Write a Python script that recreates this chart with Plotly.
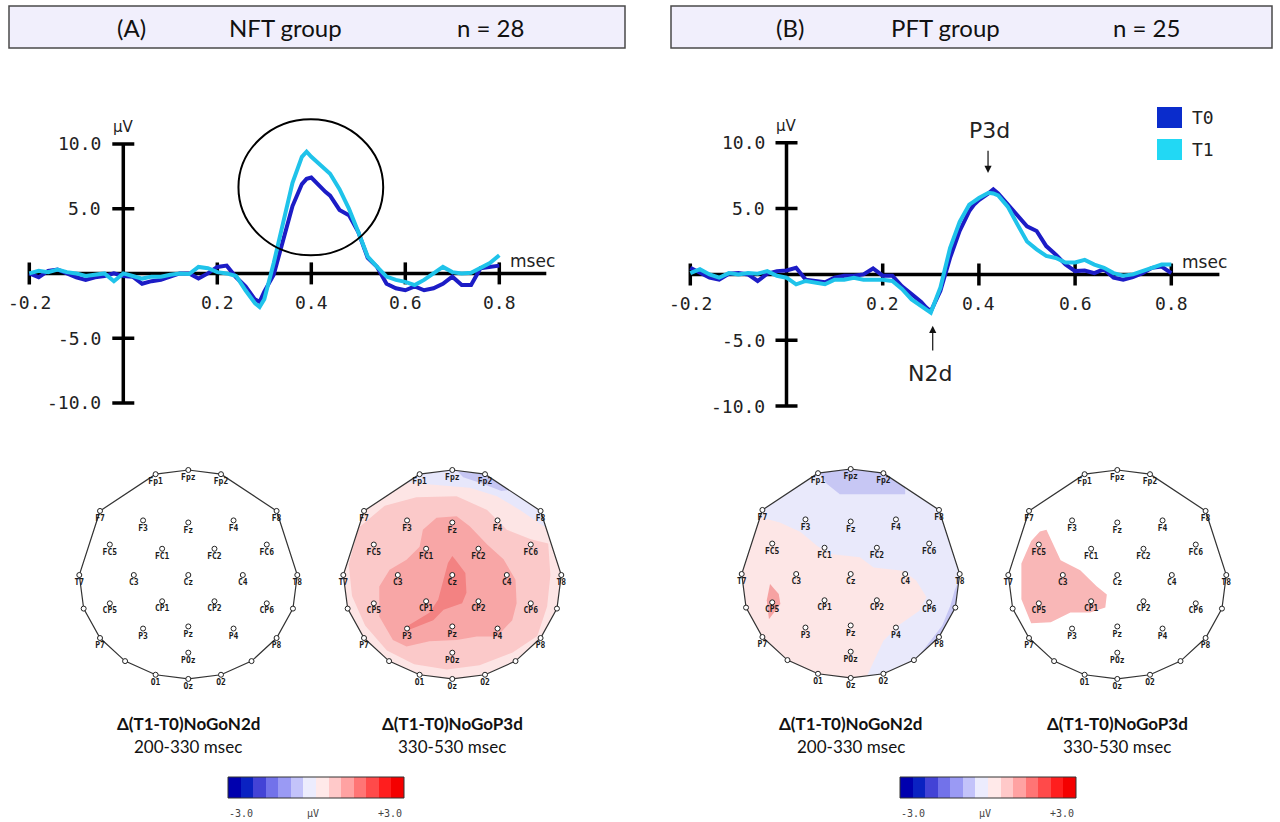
import plotly.graph_objects as go

W, H = 1280, 822

# ---------------- ERP data (seconds, microvolts) ----------------
time_s = [-0.20, -0.18, -0.16, -0.14, -0.12, -0.10, -0.08, -0.06, -0.04, -0.02,
          0.00, 0.02, 0.04, 0.06, 0.08, 0.10, 0.12, 0.14, 0.16, 0.18,
          0.20, 0.22, 0.24, 0.26, 0.28, 0.29, 0.30, 0.32, 0.34, 0.36,
          0.38, 0.39, 0.40, 0.42, 0.43, 0.44, 0.46, 0.48, 0.50, 0.52,
          0.54, 0.56, 0.58, 0.60, 0.62, 0.64, 0.66, 0.68, 0.70, 0.72,
          0.74, 0.76, 0.78, 0.80]

nft_t0 = [0.0, -0.3, 0.2, 0.3, 0.0, -0.3, -0.5, -0.3, -0.2, 0.0,
          -0.2, -0.25, -0.8, -0.6, -0.5, -0.25, 0.0, 0.0, -0.4, 0.0,
          0.5, 0.6, -0.3, -1.0, -2.0, -2.2, -1.4, -0.1, 2.6, 5.2,
          6.9, 7.3, 7.4, 6.6, 6.3, 6.0, 4.9, 4.5, 3.2, 1.2,
          0.5, -0.8, -1.15, -1.3, -1.0, -1.3, -1.15, -0.8, -0.25, -0.9,
          -0.9, 0.4, 0.5, 0.6]
nft_t1 = [0.0, 0.2, 0.1, 0.3, 0.1, 0.0, -0.2, -0.1, 0.0, -0.6,
          0.0, -0.2, -0.4, -0.25, -0.25, -0.1, 0.0, -0.05, 0.5, 0.4,
          0.1, 0.0, -0.2, -1.3, -2.3, -2.6, -2.0, 0.8, 3.8, 7.0,
          9.0, 9.4, 9.0, 8.3, 8.0, 7.7, 6.5, 5.0, 3.2, 1.3,
          0.5, -0.25, -0.5, -0.65, -0.9, -0.5, 0.0, 0.5, 0.1, 0.0,
          0.05, 0.4, 0.8, 1.4]
pft_t0 = [0.5, 0.1, -0.25, -0.4, 0.05, 0.1, 0.0, -0.5, 0.05, 0.25,
          0.3, 0.5, -0.4, -0.5, -0.6, -0.25, -0.1, -0.1, 0.0, 0.45,
          -0.1, -0.1, -0.9, -1.5, -2.1, -2.5, -2.8, -1.25, 1.25, 3.3,
          4.8, 5.3, 5.65, 6.15, 6.45, 6.15, 5.3, 4.4, 3.65, 3.3,
          2.15, 1.5, 0.75, 0.25, 0.3, 0.1, 0.4, -0.25, -0.4, -0.2,
          0.1, 0.5, 0.6, 0.1]
pft_t1 = [0.1, 0.4, 0.0, -0.25, 0.1, 0.0, 0.1, 0.05, 0.25, -0.1,
          -0.25, -0.75, -0.5, -0.6, -0.75, -0.4, -0.4, -0.25, -0.4, -0.4,
          -0.4, -0.5, -1.1, -1.9, -2.4, -2.65, -2.9, -1.0, 2.0, 4.0,
          5.3, 5.55, 5.8, 6.2, 6.15, 6.0, 5.15, 3.8, 2.5, 1.9,
          1.4, 1.25, 0.9, 0.9, 1.1, 0.75, 0.5, 0.1, -0.1, 0.0,
          0.25, 0.5, 0.75, 0.75]

x_ticks = [-0.2, 0.2, 0.4, 0.6, 0.8]
x_tick_labels = ["-0.2", "0.2", "0.4", "0.6", "0.8"]
y_ticks = [10.0, 5.0, -5.0, -10.0]
y_tick_labels = ["10.0", "5.0", "-5.0", "-10.0"]

series_names = ["T0", "T1"]
series_colors = ["#1c1cc6", "#1fc3ea"]
legend_colors = ["#0a2ccc", "#22d8f4"]

# ---------------- Topography (normalised head coordinates) ----------------
electrode_names = ["Fp1", "Fpz", "Fp2", "F7", "F3", "Fz", "F4", "F8",
                   "FC5", "FC1", "FC2", "FC6", "T7", "C3", "Cz", "C4", "T8",
                   "CP5", "CP1", "CP2", "CP6", "P7", "P3", "Pz", "P4", "P8",
                   "POz", "O1", "Oz", "O2", "", "", "", ""]
electrode_x = [-0.30, 0.00, 0.30, -0.81, -0.415, 0.00, 0.415, 0.81,
               -0.72, -0.24, 0.24, 0.72, -1.00, -0.50, 0.00, 0.50, 1.00,
               -0.72, -0.24, 0.24, 0.72, -0.81, -0.415, 0.00, 0.415, 0.81,
               0.00, -0.30, 0.00, 0.30, -0.96, 0.96, -0.58, 0.58]
electrode_y = [0.96, 1.00, 0.96, 0.61, 0.52, 0.50, 0.52, 0.61,
               0.29, 0.25, 0.25, 0.29, 0.00, 0.00, 0.00, 0.00, 0.00,
               -0.27, -0.25, -0.25, -0.27, -0.60, -0.51, -0.49, -0.51, -0.60,
               -0.74, -0.95, -0.99, -0.95, -0.32, -0.32, -0.82, -0.82]

head_x = [0.00, 0.30, 0.81, 1.00, 0.96, 0.81, 0.58, 0.30, 0.00, -0.30,
          -0.58, -0.81, -0.96, -1.00, -0.81, -0.30, 0.00]
head_y = [1.00, 0.96, 0.61, 0.00, -0.32, -0.60, -0.82, -0.95, -0.99, -0.95,
          -0.82, -0.60, -0.32, 0.00, 0.61, 0.96, 1.00]

# NFT group, P3d window
nft_p3_base = "#fde5e5"
nft_p3_lavender = [(-0.42, 0.88), (-0.30, 0.96), (0.00, 1.00), (0.30, 0.96), (0.81, 0.61),
                   (0.86, 0.45), (0.62, 0.62), (0.41, 0.75), (0.16, 0.83), (-0.11, 0.85),
                   (-0.375, 0.87)]
nft_p3_blue = [(0.05, 0.985), (0.30, 0.96), (0.52, 0.81), (0.45, 0.80), (0.28, 0.87), (0.10, 0.93)]
nft_p3_pink = [(-0.86, 0.45), (-0.62, 0.66), (-0.33, 0.74), (0.04, 0.75), (0.32, 0.62),
               (0.50, 0.43), (0.72, 0.34), (0.88, 0.30), (0.90, 0.00), (0.87, -0.30),
               (0.78, -0.58), (0.55, -0.74), (0.25, -0.86), (-0.05, -0.90), (-0.35, -0.85),
               (-0.60, -0.72), (-0.80, -0.48), (-0.92, -0.20), (-0.95, 0.10)]
nft_p3_salmon = [(-0.27, 0.43), (-0.145, 0.545), (0.04, 0.56), (0.16, 0.465), (0.32, 0.29),
                 (0.47, 0.15), (0.58, -0.045), (0.59, -0.27), (0.55, -0.43), (0.41, -0.585),
                 (0.225, -0.585), (0.04, -0.62), (-0.21, -0.63), (-0.42, -0.68), (-0.545, -0.62),
                 (-0.67, -0.395), (-0.67, -0.11), (-0.575, 0.05), (-0.42, 0.145), (-0.30, 0.27)]
nft_p3_red = [(0.00, 0.18), (0.025, 0.15), (0.12, 0.02), (0.13, -0.17), (0.09, -0.27),
              (-0.08, -0.33), (-0.175, -0.43), (-0.39, -0.52), (-0.42, -0.49), (-0.21, -0.36),
              (-0.13, -0.235), (-0.08, -0.045), (-0.04, 0.115)]

# PFT group, N2d window
pft_n2_base = "#e9e9fb"
pft_n2_pink = [(-0.83, 0.54), (-0.65, 0.49), (-0.46, 0.40), (-0.31, 0.27), (-0.19, 0.19),
               (0.085, 0.16), (0.21, 0.063), (0.48, 0.03), (0.60, -0.063), (0.695, -0.22),
               (0.63, -0.35), (0.45, -0.48), (0.30, -0.635), (0.18, -0.89), (0.15, -0.97),
               (0.00, -0.99), (-0.30, -0.95), (-0.58, -0.82), (-0.81, -0.60), (-0.96, -0.32),
               (-1.00, 0.00)]
pft_n2_blue_top = [(-0.28, 0.963), (0.00, 1.00), (0.30, 0.96), (0.50, 0.823), (0.50, 0.76),
                   (0.18, 0.76), (-0.10, 0.76), (-0.22, 0.86)]
pft_n2_blue_side = [(0.985, -0.08), (0.96, -0.32), (0.81, -0.60), (0.63, -0.77), (0.67, -0.72),
                    (0.84, -0.49), (0.915, -0.30), (0.955, -0.15)]
pft_n2_red = [(-0.74, -0.095), (-0.66, -0.19), (-0.645, -0.285), (-0.75, -0.43), (-0.77, -0.25)]

# PFT group, P3d window
pft_p3_pink = [(-0.65, 0.43), (-0.59, 0.29), (-0.52, 0.14), (-0.34, 0.046), (-0.19, -0.108),
               (-0.096, -0.186), (-0.11, -0.31), (-0.25, -0.356), (-0.43, -0.356), (-0.61, -0.45),
               (-0.79, -0.46), (-0.88, -0.23), (-0.88, 0.11), (-0.79, 0.325), (-0.71, 0.415)]

topo_titles = ["Δ(T1-T0)NoGoN2d", "Δ(T1-T0)NoGoP3d", "Δ(T1-T0)NoGoN2d", "Δ(T1-T0)NoGoP3d"]
topo_windows = ["200-330 msec", "330-530 msec", "200-330 msec", "330-530 msec"]

cb_colors = ["#0000ae", "#0a22c2", "#4343d6", "#7272ea", "#9a9af4", "#c3c3fa", "#ececfd",
             "#ffe9e9", "#ffc9c9", "#ffa2a2", "#ff7575", "#ff4a4a", "#ff1e1e", "#f40000"]
cb_labels = ["-3.0", "µV", "+3.0"]

headers = [["(A)", "NFT group", "n = 28"], ["(B)", "PFT group", "n = 25"]]

# ---------------- geometry helpers ----------------
def xdom(a, b):
    return [a / W, b / W]

def ydom(top, bottom):
    return [1 - bottom / H, 1 - top / H]

XR = [-0.21, 0.905]
YR = [-10.4, 12.4]
# panel: (x px of t=0, px per second, y px of 0 uV, px per uV)
panels = [(123.3, 470.0, 273.4, 12.95), (786.5, 481.0, 274.4, 13.17)]

fig = go.Figure()
layout = dict(width=W, height=H, margin=dict(l=0, r=0, t=0, b=0),
              paper_bgcolor="white", plot_bgcolor="rgba(0,0,0,0)", showlegend=False)
shapes, annos = [], []
MONO = "DejaVu Sans Mono"
SANS = "DejaVu Sans"

erp_sets = [(nft_t0, nft_t1), (pft_t0, pft_t1)]
for p, (x0, pxs, y0, pyu) in enumerate(panels):
    xa = "x" if p == 0 else "x2"
    ya = "y" if p == 0 else "y2"
    kx = "xaxis" if p == 0 else "xaxis2"
    ky = "yaxis" if p == 0 else "yaxis2"
    layout[kx] = dict(domain=xdom(x0 + XR[0] * pxs, x0 + XR[1] * pxs), range=XR, visible=False)
    layout[ky] = dict(domain=ydom(y0 - YR[1] * pyu, y0 - YR[0] * pyu), range=YR, visible=False)
    # axes
    shapes.append(dict(type="line", xref=xa, yref=ya, x0=0, x1=0, y0=-10, y1=10,
                       line=dict(color="black", width=3.5), layer="below"))
    shapes.append(dict(type="line", xref=xa, yref=ya, x0=-0.2, x1=0.9, y0=0, y1=0,
                       line=dict(color="black", width=3.5), layer="below"))
    hw = 11 / pxs
    hh = 11 / pyu
    for v, lab in zip(y_ticks, y_tick_labels):
        shapes.append(dict(type="line", xref=xa, yref=ya, x0=-hw, x1=hw, y0=v, y1=v,
                           line=dict(color="black", width=3.5), layer="below"))
        annos.append(dict(xref=xa, yref=ya, x=-20 / pxs, y=v, text=lab, showarrow=False,
                          xanchor="right", yanchor="middle",
                          font=dict(family=MONO, size=18, color="#222")))
    for t, lab in zip(x_ticks, x_tick_labels):
        shapes.append(dict(type="line", xref=xa, yref=ya, x0=t, x1=t, y0=-hh, y1=hh,
                           line=dict(color="black", width=3.5), layer="below"))
        annos.append(dict(xref=xa, yref=ya, x=t, y=-29 / pyu, text=lab, showarrow=False,
                          xanchor="center", yanchor="middle",
                          font=dict(family=MONO, size=18, color="#222")))
    annos.append(dict(xref=xa, yref=ya, x=0, y=10, yshift=17, text="µV", showarrow=False,
                      xanchor="center", yanchor="middle", font=dict(family=SANS, size=15, color="#222")))
    annos.append(dict(xref=xa, yref=ya, x=0.818, y=0, yshift=12, text="msec", showarrow=False,
                      xanchor="left", yanchor="middle", font=dict(family=SANS, size=17, color="#222")))
    for s, vals in enumerate(erp_sets[p]):
        fig.add_trace(go.Scatter(x=time_s, y=vals, mode="lines", name=series_names[s],
                                 line=dict(color=series_colors[s], width=4),
                                 xaxis=xa, yaxis=ya, hoverinfo="skip"))

# circle around NFT P3
shapes.append(dict(type="circle", xref="x", yref="y", x0=0.245, x1=0.553, y0=1.4, y1=11.9,
                   line=dict(color="black", width=2)))

# P3d / N2d markers in panel B
annos.append(dict(xref="x2", yref="y2", x=0.419, y=7.7, ax=0.419, ay=9.5, axref="x2", ayref="y2",
                  text="", showarrow=True, arrowhead=2, arrowsize=1.2, arrowwidth=1.2, arrowcolor="#111"))
annos.append(dict(xref="x2", yref="y2", x=0.422, y=10.9, text="P3d", showarrow=False,
                  font=dict(family=SANS, size=22, color="#222")))
annos.append(dict(xref="x2", yref="y2", x=0.304, y=-3.9, ax=0.304, ay=-5.9, axref="x2", ayref="y2",
                  text="", showarrow=True, arrowhead=2, arrowsize=1.2, arrowwidth=1.2, arrowcolor="#111"))
annos.append(dict(xref="x2", yref="y2", x=0.298, y=-7.5, text="N2d", showarrow=False,
                  font=dict(family=SANS, size=22, color="#222")))

# legend (panel B)
for i, (name, col) in enumerate(zip(series_names, legend_colors)):
    top = 107 + i * 32
    shapes.append(dict(type="rect", xref="paper", yref="paper", x0=1157 / W, x1=1182 / W,
                       y0=1 - (top + 21) / H, y1=1 - top / H, fillcolor=col, line=dict(width=0)))
    annos.append(dict(xref="paper", yref="paper", x=1190 / W, y=1 - (top + 10.5) / H, text=name,
                      showarrow=False, xanchor="left", yanchor="middle",
                      font=dict(family=MONO, size=18, color="#222")))

# headers
hdr_boxes = [(9, 625), (671, 1272)]
hdr_text_x = [[131, 285, 490], [790, 945, 1146]]
for (a, b), texts, xs in zip(hdr_boxes, headers, hdr_text_x):
    shapes.append(dict(type="rect", xref="paper", yref="paper", x0=a / W, x1=b / W,
                       y0=1 - 48 / H, y1=1 - 6 / H, fillcolor="#f1effc",
                       line=dict(color="#4a4a4a", width=1.5)))
    for tx, px in zip(texts, xs):
        annos.append(dict(xref="paper", yref="paper", x=px / W, y=1 - 27 / H, text=tx,
                          showarrow=False, xanchor="center", yanchor="middle",
                          font=dict(family="Lato", size=24, color="#111")))

# ---------------- topographic maps ----------------
RX, RY = 109.0, 105.0
TR = [-1.1, 1.1]
topo_centers = [(188.3, 575.0), (452.3, 575.0), (850.7, 574.0), (1117.3, 575.0)]
topo_layers = [
    ("white", []),
    (nft_p3_base, [("#e7e7fb", nft_p3_lavender), ("#c6c6f3", nft_p3_blue), ("#fbc9c9", nft_p3_pink),
                   ("#f8a6a6", nft_p3_salmon), ("#f38282", nft_p3_red)]),
    (pft_n2_base, [("#fde6e6", pft_n2_pink), ("#c7c7f4", pft_n2_blue_top), ("#c7c7f4", pft_n2_blue_side),
                   ("#f6a2a2", pft_n2_red)]),
    ("white", [("#f9b7b7", pft_p3_pink)]),
]
for k, ((cx, cy), (base, regions)) in enumerate(zip(topo_centers, topo_layers)):
    n = k + 3
    xa, ya = f"x{n}", f"y{n}"
    layout[f"xaxis{n}"] = dict(domain=xdom(cx - 1.1 * RX, cx + 1.1 * RX), range=TR, visible=False)
    layout[f"yaxis{n}"] = dict(domain=ydom(cy - 1.1 * RY, cy + 1.1 * RY), range=TR, visible=False)
    fig.add_trace(go.Scatter(x=head_x, y=head_y, mode="lines", fill="toself", fillcolor=base,
                             line=dict(width=0), xaxis=xa, yaxis=ya, hoverinfo="skip"))
    for col, poly in regions:
        px_ = [p[0] for p in poly] + [poly[0][0]]
        py_ = [p[1] for p in poly] + [poly[0][1]]
        fig.add_trace(go.Scatter(x=px_, y=py_, mode="lines", fill="toself", fillcolor=col,
                                 line=dict(width=0, color=col), xaxis=xa, yaxis=ya, hoverinfo="skip"))
    fig.add_trace(go.Scatter(x=head_x, y=head_y, mode="lines", line=dict(color="#333", width=1.2),
                             xaxis=xa, yaxis=ya, hoverinfo="skip"))
    fig.add_trace(go.Scatter(x=electrode_x, y=electrode_y, mode="markers+text", text=electrode_names,
                             textposition="bottom center", cliponaxis=False,
                             textfont=dict(family=MONO, size=8, color="#1a1a1a", weight="bold"),
                             marker=dict(symbol="circle", size=5, color="white",
                                         line=dict(color="#222", width=1)),
                             xaxis=xa, yaxis=ya, hoverinfo="skip"))
    annos.append(dict(xref="paper", yref="paper", x=cx / W, y=1 - 723 / H, text=f"<b>{topo_titles[k]}</b>",
                      showarrow=False, xanchor="center", yanchor="middle",
                      font=dict(family="Lato", size=17, color="#111")))
    annos.append(dict(xref="paper", yref="paper", x=cx / W, y=1 - 746 / H, text=topo_windows[k],
                      showarrow=False, xanchor="center", yanchor="middle",
                      font=dict(family="Lato", size=17, color="#111")))

# ---------------- colour bars ----------------
cb_x0 = [228, 900]
cb_w = 176
cscale = [[i / (len(cb_colors) - 1), c] for i, c in enumerate(cb_colors)]
for j, left in enumerate(cb_x0):
    n = 7 + j
    xa, ya = f"x{n}", f"y{n}"
    layout[f"xaxis{n}"] = dict(domain=xdom(left, left + cb_w), range=[-0.5, len(cb_colors) - 0.5], visible=False)
    layout[f"yaxis{n}"] = dict(domain=ydom(777, 798), range=[-0.5, 0.5], visible=False)
    fig.add_trace(go.Heatmap(z=[list(range(len(cb_colors)))], x=list(range(len(cb_colors))), y=[0],
                             colorscale=cscale, zmin=0, zmax=len(cb_colors) - 1, showscale=False,
                             xaxis=xa, yaxis=ya, hoverinfo="skip"))
    shapes.append(dict(type="rect", xref="paper", yref="paper", x0=left / W, x1=(left + cb_w) / W,
                       y0=1 - 798 / H, y1=1 - 777 / H, line=dict(color="#333", width=1)))
    for lab, off in zip(cb_labels, [13, 85, 162]):
        annos.append(dict(xref="paper", yref="paper", x=(left + off) / W, y=1 - 813 / H, text=lab,
                          showarrow=False, xanchor="center", yanchor="middle",
                          font=dict(family=MONO, size=10, color="#444")))

layout["shapes"] = shapes
layout["annotations"] = annos
fig.update_layout(**layout)
fig.write_html("out.html", config={"displayModeBar": False},
               post_script="document.body.style.margin='0';document.body.style.padding='0';"
                           "document.body.style.overflow='hidden';")
